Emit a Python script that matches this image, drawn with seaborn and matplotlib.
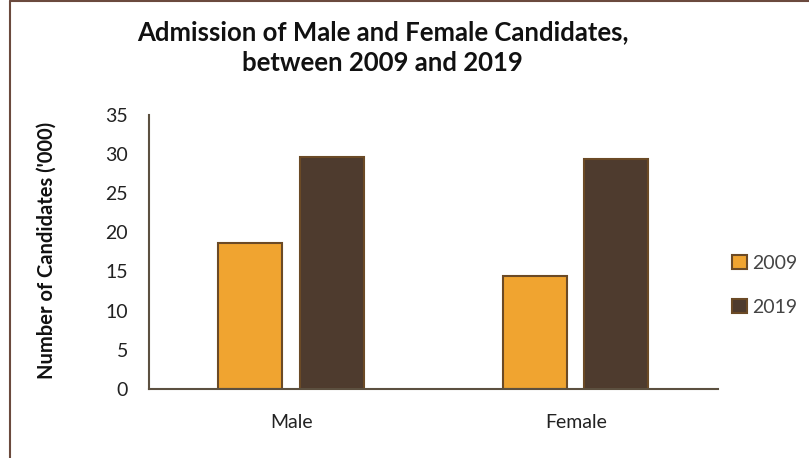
import matplotlib
matplotlib.use("Agg")
import matplotlib.pyplot as plt
import seaborn as sns
import pandas as pd

categories = ["Male", "Female"]
years = ["2009", "2019"]
values_2009 = [18.6, 14.4]
values_2019 = [29.6, 29.4]

df = pd.DataFrame({
    "Gender": categories * 2,
    "Year": [years[0]] * 2 + [years[1]] * 2,
    "Value": values_2009 + values_2019,
})

sns.set_theme(style="white")
plt.rcParams["font.family"] = ["Lato", "DejaVu Sans"]

fig = plt.figure(figsize=(8.09, 4.58), dpi=100)
ax = fig.add_axes([0.184, 0.151, 0.7035, 0.598])

palette = {"2009": "#F0A430", "2019": "#4E3B2E"}
sns.barplot(data=df, x="Gender", y="Value", hue="Year", palette=palette,
            width=0.573, gap=0.215, edgecolor="#6B4A26", linewidth=1.5,
            saturation=1, ax=ax, legend=True)

ax.set_ylim(0, 35)
ax.set_xlim(-0.5, 1.5)
ax.set_yticks(range(0, 36, 5))
ax.tick_params(axis="both", length=0, labelsize=14, colors="#222222")
ax.tick_params(axis="x", pad=18)
ax.tick_params(axis="y", pad=15)
ax.set_xlabel("")
ax.set_ylabel("Number of Candidates ('000)", fontsize=14.5, fontweight="bold",
              color="#111111")
ax.yaxis.set_label_coords(-0.162, 0.507)
for s in ["top", "right"]:
    ax.spines[s].set_visible(False)
for s in ["left", "bottom"]:
    ax.spines[s].set_color("#5C5040")
    ax.spines[s].set_linewidth(1.5)

leg = ax.legend(loc="center left", bbox_to_anchor=(1.025, 0.378), frameon=False,
                fontsize=14, handlelength=0.75, handleheight=0.75,
                handletextpad=0.3, labelspacing=1.4, borderpad=0,
                borderaxespad=0)
for t in leg.get_texts():
    t.set_color("#444444")

fig.text(0.473, 0.896, "Admission of Male and Female Candidates,\nbetween 2009 and 2019",
         ha="center", va="center", fontsize=18.5, fontweight="bold",
         linespacing=1.35, color="#111111")

# figure border (left and top)
fig.add_artist(plt.Line2D([0.0125, 0.0125], [0, 0.997], transform=fig.transFigure,
                          color="#6B4A3E", linewidth=1.5))
fig.add_artist(plt.Line2D([0.0125, 1.0], [0.997, 0.997], transform=fig.transFigure,
                          color="#6B4A3E", linewidth=1.5))

fig.savefig("out.png", dpi=100)
